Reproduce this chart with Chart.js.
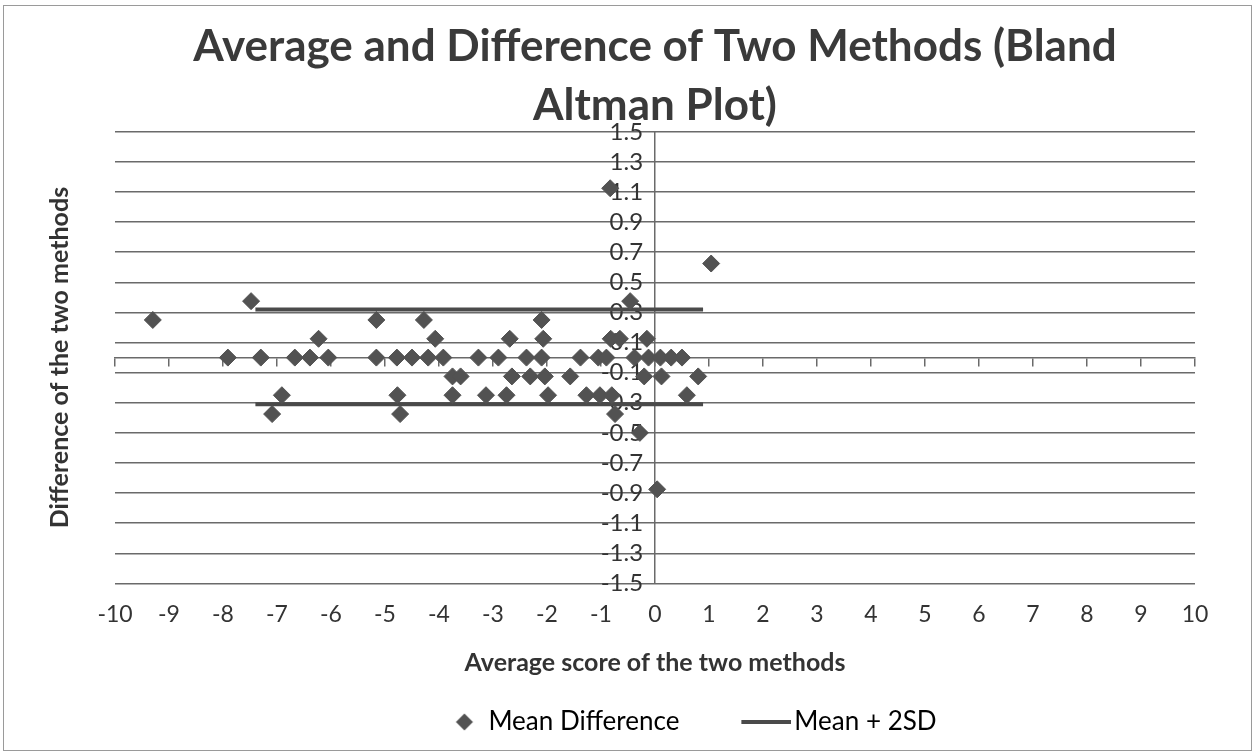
<!DOCTYPE html>
<html>
<head>
<meta charset="utf-8">
<script src="https://cdn.jsdelivr.net/npm/chart.js@4/dist/chart.umd.min.js"></script>
<style>
  html, body { margin: 0; padding: 0; background: #ffffff; }
  #wrap { position: relative; width: 1260px; height: 755px; }
  #c { position: absolute; left: 0; top: 0; }
  #frame { position: absolute; left: 3px; top: 5px; width: 1247px; height: 744px; border: 1px solid #9a9a9a; pointer-events: none; }
</style>
</head>
<body>
<div id="wrap">
  <canvas id="c" width="1260" height="755"></canvas>
  <div id="frame"></div>
</div>
<script>
// ---- data ----
const titleLines = ['Average and Difference of Two Methods (Bland', 'Altman Plot)'];
const xTitle = 'Average score of the two methods';
const yTitle = 'Difference of the two methods';
const seriesNames = ['Mean Difference', 'Mean + 2SD', 'Mean - 2SD'];

const avgScore = [
  -9.30, -7.91, -7.48, -7.30, -6.91, -7.09, -6.67, -6.39, -6.23, -6.05,
  -5.16, -5.16, -4.78, -4.77, -4.72, -4.50, -4.28, -4.20, -4.07, -3.92,
  -3.75, -3.75, -3.60, -3.27, -3.13, -2.90, -2.75, -2.69, -2.65, -2.38,
  -2.31, -2.10, -2.07, -2.10, -2.04, -1.98, -1.57, -1.38, -1.27, -1.05,
  -1.02, -0.90, -0.83, -0.82, -0.65, -0.80, -0.74, -0.46, -0.38, -0.28,
  -0.20, -0.15, -0.12, 0.04, 0.10, 0.12, 0.30, 0.50, 0.59, 0.80, 1.04
];
const diffScore = [
  0.25, 0, 0.375, 0, -0.25, -0.375, 0, 0, 0.125, 0,
  0.25, 0, 0, -0.25, -0.375, 0, 0.25, 0, 0.125, 0,
  -0.25, -0.125, -0.125, 0, -0.25, 0, -0.25, 0.125, -0.125, 0,
  -0.125, 0.25, 0.125, 0, -0.125, -0.25, -0.125, 0, -0.25, 0,
  -0.25, 0, 1.125, 0.125, 0.125, -0.25, -0.375, 0.375, 0, -0.5,
  -0.125, 0.125, 0, -0.875, 0, -0.125, 0, 0, -0.25, -0.125, 0.625
];
const limitX = [-7.40, 0.89];
const upperLimit = [0.32, 0.32];
const lowerLimit = [-0.31, -0.31];

const xTicksRange = [-10, 10, 1];
const yTicksRange = [-1.5, 1.5, 0.2];

// ---- build ----
const pts = avgScore.map((x, i) => ({ x: x, y: diffScore[i] }));
const upperPts = limitX.map((x, i) => ({ x: x, y: upperLimit[i] }));
const lowerPts = limitX.map((x, i) => ({ x: x, y: lowerLimit[i] }));

const markColor = '#525252';
const lineColor = '#4a4a4a';
const gridColor = '#6a6a6a';
const textColor = '#333333';

function diamondIcon() {
  const c = document.createElement('canvas');
  c.width = 100; c.height = 20;
  const g = c.getContext('2d');
  g.fillStyle = markColor;
  g.beginPath();
  g.moveTo(90 - 8.5, 10); g.lineTo(90, 1.5); g.lineTo(90 + 8.5, 10); g.lineTo(90, 18.5);
  g.closePath(); g.fill();
  return c;
}
function lineIcon() {
  const c = document.createElement('canvas');
  c.width = 122; c.height = 4;
  const g = c.getContext('2d');
  g.fillStyle = lineColor;
  g.fillRect(72, 0, 50, 4);
  return c;
}

Chart.defaults.font.family = 'Lato, "Open Sans", sans-serif';
Chart.defaults.color = textColor;

new Chart(document.getElementById('c'), {
  type: 'scatter',
  data: {
    datasets: [
      {
        label: seriesNames[0], data: pts,
        pointStyle: 'rectRot', pointRadius: 8.5, pointHoverRadius: 8.5,
        backgroundColor: markColor, borderColor: markColor, borderWidth: 1
      },
      {
        label: seriesNames[1], data: upperPts, showLine: true,
        borderColor: lineColor, borderWidth: 4, pointRadius: 0, backgroundColor: lineColor
      },
      {
        label: seriesNames[2], data: lowerPts, showLine: true,
        borderColor: lineColor, borderWidth: 4, pointRadius: 0, backgroundColor: lineColor
      }
    ]
  },
  options: {
    responsive: false,
    animation: false,
    devicePixelRatio: 1,
    layout: { padding: { left: 45, right: 65, top: 0, bottom: 10 } },
    plugins: {
      tooltip: { enabled: false },
      title: {
        display: true, text: titleLines, color: '#3a3a3a', fullSize: false,
        font: { size: 44, weight: 'bold', lineHeight: 1.35 },
        padding: { top: 17, bottom: -4 }
      },
      legend: {
        position: 'bottom', fullSize: false,
        labels: {
          usePointStyle: true, pointStyleWidth: 102, padding: 0,
          font: { size: 26 }, color: textColor,
          generateLabels: function (chart) {
            return [
              { text: seriesNames[0], pointStyle: diamondIcon(), fillStyle: markColor, strokeStyle: markColor, lineWidth: 0, datasetIndex: 0, hidden: false },
              { text: seriesNames[1], pointStyle: lineIcon(), fillStyle: lineColor, strokeStyle: lineColor, lineWidth: 0, datasetIndex: 1, hidden: false }
            ];
          }
        }
      }
    },
    scales: {
      x: {
        type: 'linear', position: 'bottom',
        min: xTicksRange[0], max: xTicksRange[1],
        ticks: { stepSize: xTicksRange[2], padding: 17, font: { size: 23 }, color: textColor,
                 callback: v => String(v) },
        grid: { display: false, drawTicks: false },
        border: { display: false },
        title: { display: true, text: xTitle, color: textColor,
                 font: { size: 25, weight: 'bold' }, padding: { top: 3, bottom: 31 } }
      },
      x2: {
        type: 'linear', axis: 'x', position: { y: 0 },
        min: xTicksRange[0], max: xTicksRange[1],
        ticks: { stepSize: xTicksRange[2], display: false },
        grid: { display: true, drawOnChartArea: false, drawTicks: true, tickLength: 8, color: gridColor, lineWidth: 1.5 },
        border: { display: true, color: gridColor, width: 1.5 }
      },
      y: {
        type: 'linear', position: { x: -0.22 },
        min: yTicksRange[0], max: yTicksRange[1],
        ticks: { stepSize: yTicksRange[2], autoSkip: false, font: { size: 24 }, color: textColor,
                 callback: v => Number(v).toFixed(1) },
        grid: { display: true, drawTicks: false, color: gridColor, lineWidth: 1.5 },
        border: { display: false }
      },
      y0: {
        type: 'linear', axis: 'y', position: { x: 0 },
        min: yTicksRange[0], max: yTicksRange[1],
        ticks: { display: false },
        grid: { display: false, drawOnChartArea: false, drawTicks: false },
        border: { display: true, color: gridColor, width: 1.5 }
      },
      yTitle: {
        type: 'linear', axis: 'y', position: 'left',
        min: yTicksRange[0], max: yTicksRange[1],
        ticks: { display: false },
        grid: { display: false, drawTicks: false },
        border: { display: false },
        title: { display: true, text: yTitle, color: textColor,
                 font: { size: 25, weight: 'bold' }, padding: { top: 0, bottom: 40 } }
      }
    }
  }
});
</script>
</body>
</html>
